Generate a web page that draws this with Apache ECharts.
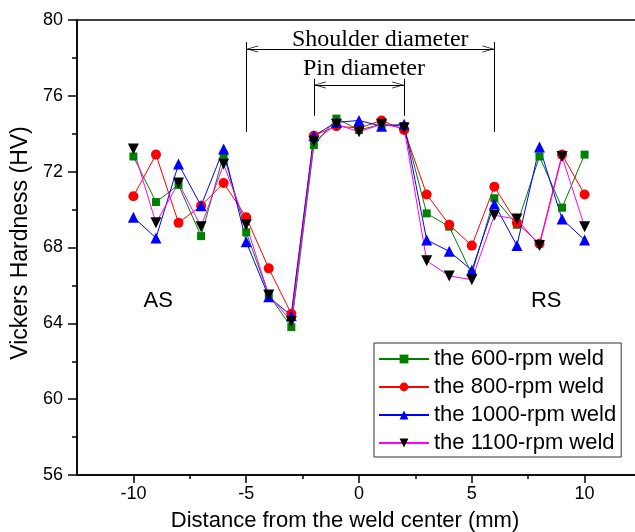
<!DOCTYPE html>
<html>
<head>
<meta charset="utf-8">
<script src="https://cdn.jsdelivr.net/npm/echarts@6/dist/echarts.min.js"></script>
<style>
  html, body { margin: 0; padding: 0; background: #fff; }
  #chart { width: 635px; height: 532px; }
</style>
</head>
<body>
<div id="chart"></div>
<script>
// distance from weld center (mm)
var distance = [-10, -9, -8, -7, -6, -5, -4, -3, -2, -1, 0, 1, 2, 3, 4, 5, 6, 7, 8, 9, 10];

// hardness (HV)
var rpm600  = [72.8, 70.4, 71.3, 68.6, 72.9, 68.8, 65.5, 63.8, 73.4, 74.8, 74.2, 74.5, 74.4, 69.8, 69.1, 66.6, 70.6, 69.2, 72.8, 70.1, 72.9];
var rpm800  = [70.7, 72.9, 69.3, 70.2, 71.4, 69.6, 66.9, 64.5, 73.9, 74.4, 74.3, 74.7, 74.2, 70.8, 69.2, 68.1, 71.2, 69.3, 68.2, 72.9, 70.8];
var rpm1000 = [69.6, 68.5, 72.4, 70.2, 73.2, 68.3, 65.4, 64.4, 73.9, 74.6, 74.7, 74.4, 74.5, 68.4, 67.8, 66.8, 70.3, 68.1, 73.3, 69.5, 68.4];
var rpm1100 = [73.2, 69.3, 71.4, 69.1, 72.4, 69.2, 65.5, 64.1, 73.6, 74.5, 74.1, 74.5, 74.3, 67.3, 66.5, 66.3, 69.7, 69.5, 68.1, 72.8, 69.1];

var seriesNames = ['the 600-rpm weld', 'the 800-rpm weld', 'the 1000-rpm weld', 'the 1100-rpm weld'];
var xMajorTicks = [-10, -5, 0, 5, 10];
var xMinorTicks = [-7.5, -2.5, 2.5, 7.5];

// tool geometry annotations (mm, HV)
var shoulderEdges = [-5, 6];
var pinEdges = [-2, 2];

function pairs(xs, ys) {
    var out = [];
    for (var i = 0; i < xs.length; i++) out.push([xs[i], ys[i]]);
    return out;
}

var chart = echarts.init(document.getElementById('chart'));

// open arrow head, tip at the centre of the box so it lands on the line end
var chevron = 'path://M0,0 L5,12 L4,12 L0,2.5 L-4,12 L-5,12 Z M0,-12 L0.01,-12 L0,-12 Z';

function dimLines(edges, yTop, yBottom, yArrow, text, dist, shift) {
    return [
        [{ coord: [edges[0], yTop] }, { coord: [edges[0], yBottom] }],
        [{ coord: [edges[1], yTop] }, { coord: [edges[1], yBottom] }],
        [{ coord: [edges[0], yArrow], symbol: chevron, symbolSize: [7, 24] },
         { coord: [edges[1], yArrow], symbol: chevron, symbolSize: [7, 24],
           label: { show: true, position: 'middle', formatter: text, distance: dist, padding: [0, 0, 0, shift] } }]
    ];
}

function mkSeries(name, data, color, lineColor, symbol, size, rotate) {
    return {
        name: name,
        type: 'line',
        data: pairs(distance, data),
        symbol: symbol,
        symbolSize: size,
        symbolRotate: rotate || 0,
        showAllSymbol: true,
        lineStyle: { color: lineColor, width: 1 },
        itemStyle: { color: color },
        emphasis: { disabled: true },
        animation: false
    };
}

var option = {
    backgroundColor: '#fff',
    animation: false,
    grid: {
        left: 77, top: 20, right: -6, bottom: 57,
        outerBoundsMode: 'none',
        containLabel: false,
        show: true, borderColor: '#000', borderWidth: 1.5
    },
    legend: {
        data: seriesNames,
        orient: 'vertical',
        left: 374, top: 343,
        itemWidth: 50, itemHeight: 11, itemGap: 6,
        padding: [5, 5, 3, 4],
        borderColor: '#333', borderWidth: 1,
        selectedMode: false,
        textStyle: { fontFamily: 'Liberation Sans', fontSize: 22, color: '#000' }
    },
    xAxis: [{
        type: 'value',
        min: -12.5, max: 12.5,
        name: 'Distance from the weld center (mm)',
        nameLocation: 'middle', nameGap: 35,
        nameTextStyle: { fontFamily: 'Liberation Sans', fontSize: 22, color: '#000', padding: [0, 28, 0, 0] },
        axisLine: { onZero: false, lineStyle: { color: '#000', width: 1.5 } },
        axisTick: { customValues: xMajorTicks, length: 8, lineStyle: { color: '#000', width: 1.5 } },
        axisLabel: { customValues: xMajorTicks, margin: 10, fontFamily: 'Liberation Sans', fontSize: 18, color: '#000' },
        splitLine: { show: false }
    }, {
        type: 'value',
        min: -12.5, max: 12.5,
        position: 'bottom',
        axisLine: { show: false, onZero: false },
        axisTick: { customValues: xMinorTicks, length: 4, lineStyle: { color: '#000', width: 1.5 } },
        axisLabel: { show: false },
        splitLine: { show: false }
    }],
    yAxis: {
        type: 'value',
        min: 56, max: 80, interval: 4,
        name: 'Vickers Hardness (HV)',
        nameLocation: 'middle', nameGap: 41,
        nameTextStyle: { fontFamily: 'Liberation Sans', fontSize: 23, color: '#000', padding: [0, 0, 0, 9] },
        axisLine: { show: true, onZero: false, lineStyle: { color: '#000', width: 1.5 } },
        axisTick: { show: true, length: 9, lineStyle: { color: '#000', width: 1.5 } },
        minorTick: { show: true, splitNumber: 2, length: 5, lineStyle: { color: '#000', width: 1.5 } },
        axisLabel: { margin: 14, fontFamily: 'Liberation Sans', fontSize: 18, color: '#000' },
        splitLine: { show: false }
    },
    series: [
        mkSeries(seriesNames[0], rpm600, '#008000', '#008000', 'rect', 8),
        mkSeries(seriesNames[1], rpm800, '#ff0000', '#ff0000', 'circle', 10),
        mkSeries(seriesNames[2], rpm1000, '#0000ff', '#0000ff', 'triangle', 11),
        mkSeries(seriesNames[3], rpm1100, '#000000', '#ff00ff', 'triangle', 11, 180),
        {
            name: 'annotations',
            type: 'line',
            data: [],
            silent: true,
            markLine: {
                silent: true,
                animation: false,
                symbol: ['none', 'none'],
                lineStyle: { color: '#000', width: 1, type: 'solid' },
                label: { show: false, fontFamily: 'Liberation Serif', fontSize: 24, color: '#000' },
                emphasis: { disabled: true },
                data: dimLines(shoulderEdges, 78.84, 74.1, 78.47, 'Shoulder diameter', -3, 20)
                    .concat(dimLines(pinEdges, 76.9, 74.95, 76.57, 'Pin diameter', 4, 10))
            },
            markPoint: {
                silent: true,
                symbol: 'circle', symbolSize: 0,
                label: { show: true, position: 'inside', fontFamily: 'Liberation Sans', fontSize: 22, color: '#000' },
                data: [
                    { coord: [-8.9, 65.2], value: 'AS', label: { formatter: 'AS' } },
                    { coord: [8.3, 65.2], value: 'RS', label: { formatter: 'RS' } }
                ]
            }
        }
    ]
};

chart.setOption(option);
window.addEventListener('resize', function () {
    chart.resize();
});
</script>
</body>
</html>
